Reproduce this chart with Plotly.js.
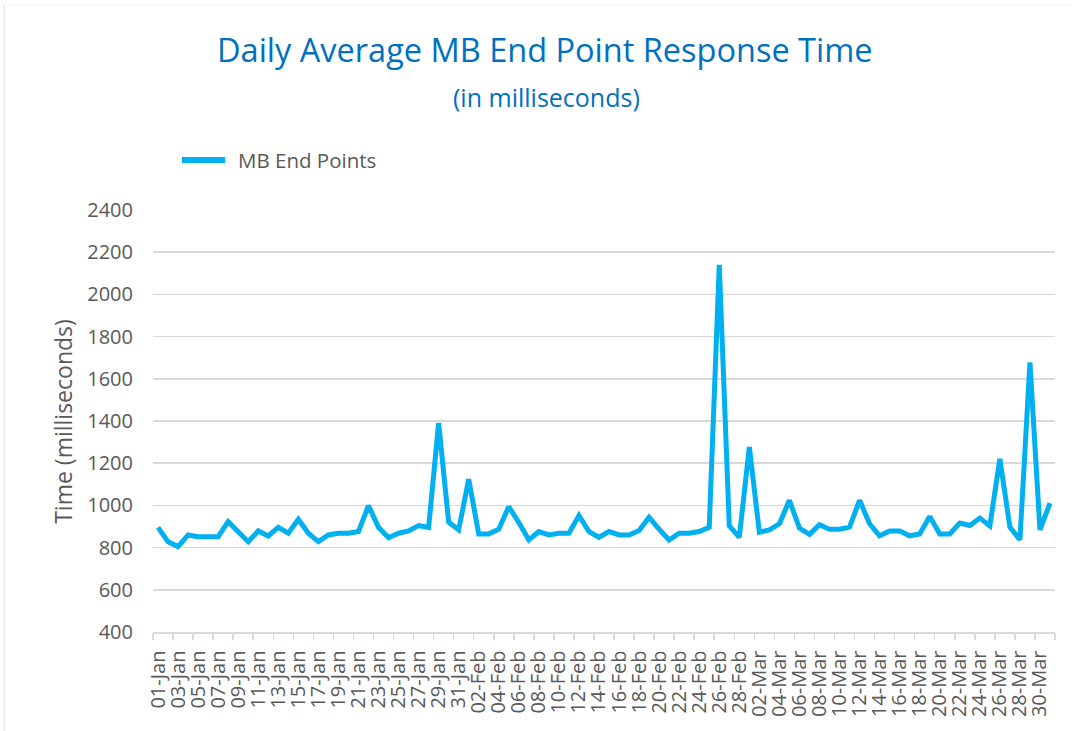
<!DOCTYPE html>
<html>
<head>
<meta charset="utf-8">
<script src="https://cdn.plot.ly/plotly-3.0.1.min.js"></script>
<style>html,body{margin:0;padding:0;background:#fff;}#chart{width:1072px;height:731px;}</style>
</head>
<body>
<div id="chart"></div>
<script>
const months = ["Jan", "Feb", "Mar"];
const monthDays = [31, 28, 31];
const categories = [];
months.forEach((m, k) => {
  for (let d = 1; d <= monthDays[k]; d++) categories.push((d < 10 ? "0" : "") + d + "-" + m);
});

const responseTimes = [
  896, 828, 805, 860, 852, 852, 852, 923, 876, 828,
  879, 855, 896, 868, 934, 868, 828, 860, 868, 868,
  876, 999, 896, 847, 868, 879, 904, 895, 1390, 921,
  884, 1124, 865, 865, 887, 994, 919, 836, 876, 860,
  868, 868, 952, 876, 849, 876, 860, 860, 881, 944,
  887, 836, 868, 868, 876, 896, 2140, 903, 849, 1277,
  873, 884, 913, 1024, 892, 863, 908, 887, 887, 897,
  1024, 913, 856, 879, 879, 856, 865, 948, 865, 865,
  916, 905, 940, 903, 1221, 897, 837, 1678, 884, 1011
];

const seriesName = "MB End Points";
const chartTitle = "Daily Average MB End Point Response Time";
const chartSubtitle = "(in milliseconds)";
const yTitle = "Time (milliseconds)";

const FONT = "'Open Sans', Lato, sans-serif";
const GRAY = "#595959";
const LINE_COLOR = "#00B0F0";

const trace = {
  x: categories,
  y: responseTimes,
  type: "scatter",
  mode: "lines",
  name: seriesName,
  line: {color: LINE_COLOR, width: 5, shape: "linear"},
  showlegend: false
};

const layout = {
  width: 1072,
  height: 731,
  paper_bgcolor: "#ffffff",
  plot_bgcolor: "#ffffff",
  margin: {l: 153, r: 17, t: 210, b: 99},
  font: {family: FONT, color: GRAY},
  showlegend: false,
  xaxis: {
    type: "category",
    range: [-0.5, categories.length - 0.5],
    tickmode: "linear", tick0: 0, dtick: 2,
    tickson: "boundaries",
    ticks: "outside", ticklen: 6, tickcolor: "#d9d9d9", tickwidth: 1.5,
    tickangle: -90,
    ticklabelstandoff: 9,
    tickfont: {family: FONT, size: 20, color: GRAY},
    showgrid: false,
    showline: true, linecolor: "#d9d9d9", linewidth: 1.5,
    zeroline: false,
    fixedrange: true
  },
  yaxis: {
    range: [400, 2400],
    tickmode: "linear", tick0: 400, dtick: 200,
    tickfont: {family: FONT, size: 20, color: GRAY},
    showgrid: true, gridcolor: "#d9d9d9", gridwidth: 1.5,
    showline: false, zeroline: false,
    ticks: "", ticklabelstandoff: 19,
    fixedrange: true
  },
  annotations: [
    {text: chartTitle, xref: "paper", yref: "paper", x: 0.435, y: 1.38,
     xanchor: "center", yanchor: "middle", showarrow: false,
     font: {family: FONT, size: 32.5, color: "#0070C0"}},
    {text: chartSubtitle, xref: "paper", yref: "paper", x: 0.436, y: 1.268,
     xanchor: "center", yanchor: "middle", showarrow: false,
     font: {family: FONT, size: 25, color: "#0070C0"}},
    {text: yTitle, xref: "paper", yref: "paper", x: -0.1, y: 0.5,
     xanchor: "center", yanchor: "middle", showarrow: false, textangle: -90,
     font: {family: FONT, size: 23, color: GRAY}},
    {text: seriesName, xref: "paper", yref: "paper", x: 0.092, y: 1.1185,
     xanchor: "left", yanchor: "middle", showarrow: false,
     font: {family: FONT, size: 20.5, color: GRAY}}
  ],
  shapes: [
    {type: "line", xref: "paper", yref: "paper", x0: 0.032, x1: 0.08, y0: 1.1185, y1: 1.1185,
     line: {color: LINE_COLOR, width: 6}},
    {type: "line", xref: "paper", yref: "paper", x0: -0.165, x1: -0.165, y0: 1.486, y1: -0.25,
     line: {color: "#d9d9d9", width: 1}},
    {type: "line", xref: "paper", yref: "paper", x0: -0.165, x1: 1.02, y0: 1.486, y1: 1.486,
     line: {color: "#eeeeee", width: 1}}
  ]
};

Plotly.newPlot("chart", [trace], layout, {displayModeBar: false, staticPlot: true});
</script>
</body>
</html>
